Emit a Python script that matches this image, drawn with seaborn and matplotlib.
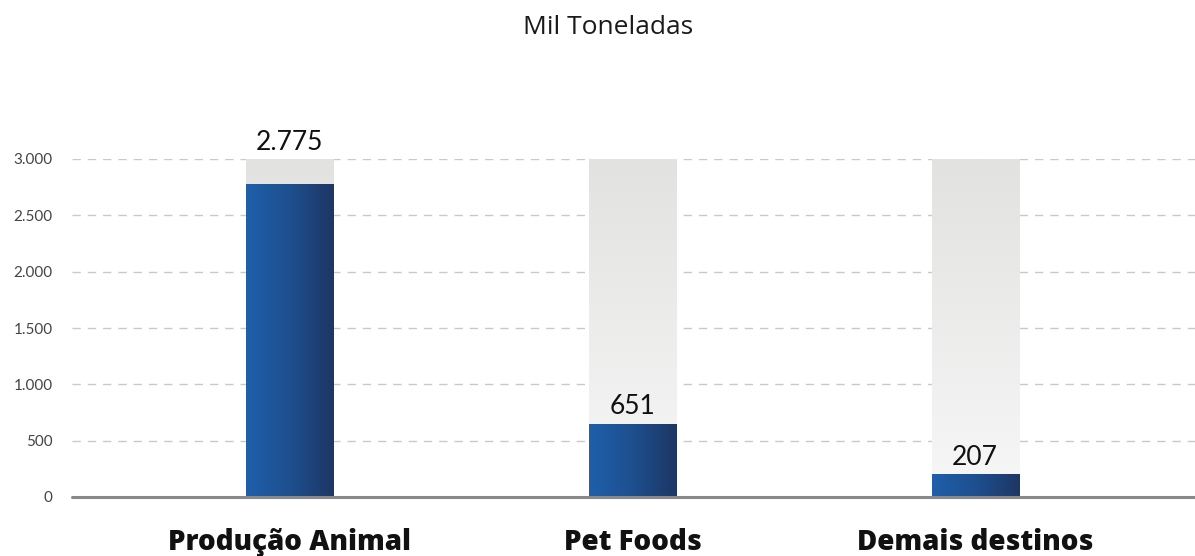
import numpy as np
import pandas as pd
import matplotlib
matplotlib.use("Agg")
import matplotlib.pyplot as plt
import seaborn as sns
from matplotlib.colors import LinearSegmentedColormap
from matplotlib.ticker import FuncFormatter

# Destinos da produção (mil toneladas)
categories = ["Produção Animal", "Pet Foods", "Demais destinos"]
values = [2775, 651, 207]
capacity = [3000, 3000, 3000]
y_ticks = [0, 500, 1000, 1500, 2000, 2500, 3000]
title = "Mil Toneladas"

sns.set_theme(style="white")
plt.rcParams["font.family"] = ["Lato", "DejaVu Sans"]
wide_font = ["Open Sans", "DejaVu Sans"]

df = pd.DataFrame({"categoria": categories, "valor": values, "escala": capacity})

fig = plt.figure(figsize=(11.95, 5.56), dpi=100)
ax = fig.add_axes([72 / 1195, 59 / 556, 1123 / 1195, 338 / 556])

bar_w = 0.254
sns.barplot(data=df, x="categoria", y="escala", color="#eeeeee", width=bar_w,
            ax=ax, zorder=2, linewidth=0, saturation=1)
n_bg = len(ax.patches)
sns.barplot(data=df, x="categoria", y="valor", color="#1f4e8c", width=bar_w,
            ax=ax, zorder=3, linewidth=0, saturation=1)

gray_cmap = LinearSegmentedColormap.from_list("bg", ["#f7f7f7", "#e2e2e1"])
blue_cmap = LinearSegmentedColormap.from_list("fg", ["#1f5fab", "#1e4f8e", "#1d3664"])

for i, p in enumerate(ax.patches):
    x0, y0 = p.get_x(), p.get_y()
    w, h = p.get_width(), p.get_height()
    if i < n_bg:
        grad = np.linspace(0, 1, 256).reshape(-1, 1)
        im = ax.imshow(grad, cmap=gray_cmap, aspect="auto", origin="lower",
                       extent=[x0, x0 + w, y0, y0 + h], zorder=2)
    else:
        grad = np.linspace(0, 1, 256).reshape(1, -1)
        im = ax.imshow(grad, cmap=blue_cmap, aspect="auto", origin="lower",
                       extent=[x0, x0 + w, y0, y0 + h], zorder=3)
    im.set_clip_path(p)

ax.set_xlim(-0.636, 2.642)
ax.set_ylim(0, 3000)
ax.set_yticks(y_ticks)
ax.yaxis.set_major_formatter(FuncFormatter(lambda v, _: f"{int(v):,}".replace(",", ".")))
ax.tick_params(axis="y", labelsize=11, colors="#444444", length=0, pad=14)
ax.tick_params(axis="x", length=0, pad=22)
ax.set_xticks(range(len(categories)))
ax.set_xticklabels(categories, fontsize=20, fontweight="heavy", color="#111111",
                   family=wide_font)
ax.set_xlabel("")
ax.set_ylabel("")

for t in y_ticks[1:]:
    ax.axhline(t, color="#c9c9c9", lw=1, ls=(0, (6, 5)), zorder=1)
ax.axhline(0, color="#888888", lw=2.2, zorder=5, clip_on=False)

for s in ax.spines.values():
    s.set_visible(False)

# value labels sit above the bar, or above the track when the bar nearly fills it
for i, v in enumerate(values):
    base = max(capacity) if v > 0.9 * max(capacity) else v
    ax.annotate(f"{v:,}".replace(",", "."), (i, base), xytext=(0, 3),
                textcoords="offset points", ha="center", va="bottom",
                fontsize=19, color="#111111", zorder=6, annotation_clip=False)

fig.text(608 / 1195, 1 - 27 / 556, title, ha="center", va="center",
         fontsize=19, color="#1a1a1a", family=wide_font)

fig.savefig("out.png", dpi=100, facecolor="white")
